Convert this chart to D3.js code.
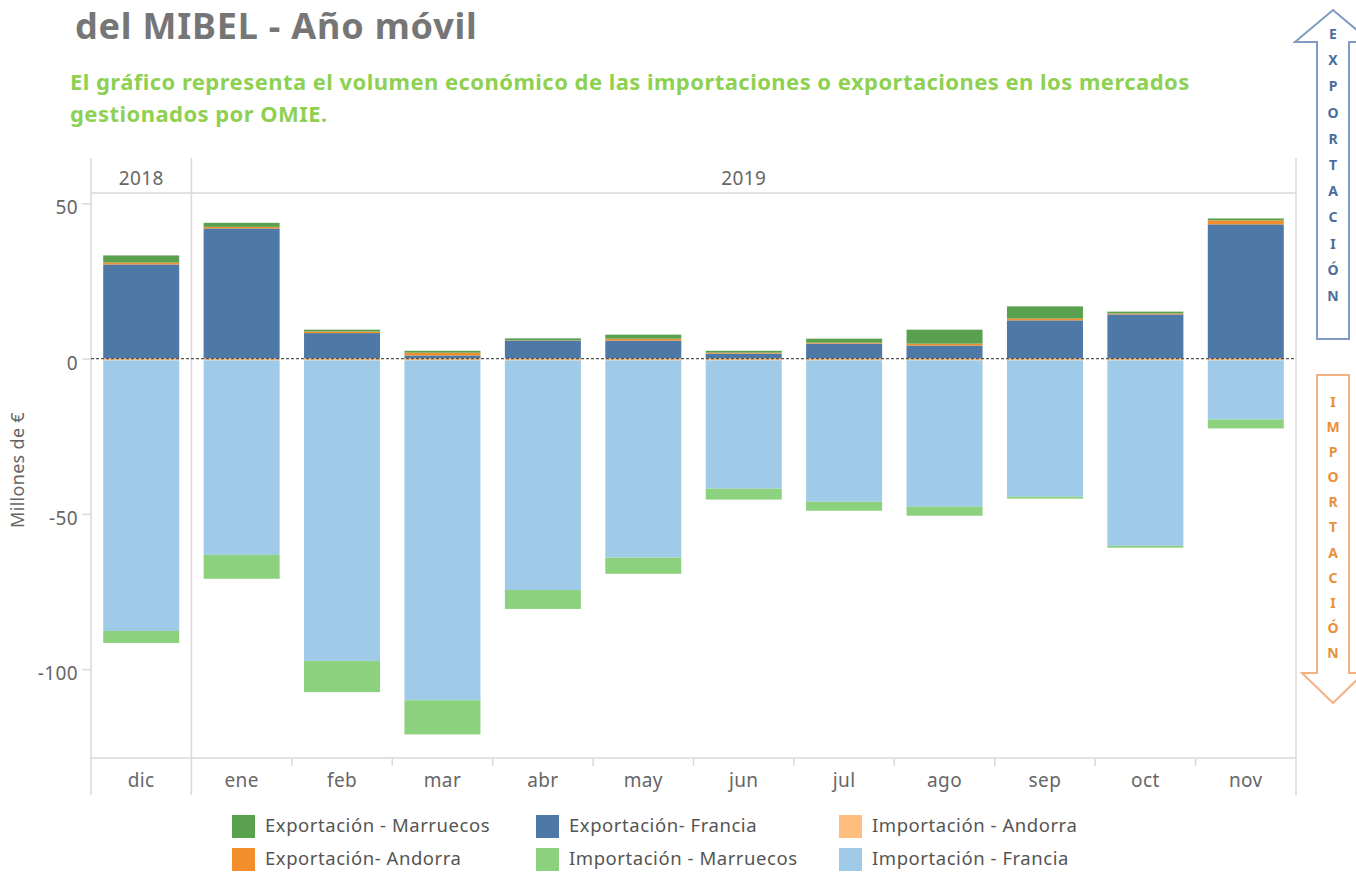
<!DOCTYPE html>
<html>
<head>
<meta charset="utf-8">
<script src="https://cdn.jsdelivr.net/npm/d3@7"></script>
<style>
  html, body { margin: 0; padding: 0; background: #fff; }
  svg { display: block; }
</style>
</head>
<body>
<svg id="chart" width="1356" height="872"></svg>
<script>
// Months of the rolling year (dic 2018 – nov 2019)
const months = ["dic", "ene", "feb", "mar", "abr", "may", "jun", "jul", "ago", "sep", "oct", "nov"];
const years = [{ label: "2018", from: 0, to: 1 }, { label: "2019", from: 1, to: 12 }];

// Millions of euros per month
const expFrancia   = [30.3, 41.9, 8.2, 1.0, 5.8, 5.8, 1.6, 4.8, 4.2, 12.3, 14.2, 43.2];
const expAndorra   = [0.6, 0.5, 0.5, 0.9, 0.1, 0.6, 0.3, 0.3, 0.6, 0.6, 0.3, 1.3];
const expMarruecos = [2.3, 1.3, 0.6, 0.6, 0.6, 1.3, 0.6, 1.3, 4.5, 3.9, 0.6, 0.6];
const impAndorra   = [0.6, 0.6, 0.6, 0.6, 0.6, 0.6, 0.6, 0.6, 0.6, 0.6, 0.6, 0.6];
const impFrancia   = [87.1, 62.6, 96.8, 109.4, 73.9, 63.5, 41.3, 45.5, 47.1, 43.9, 59.7, 19.0];
const impMarruecos = [3.9, 7.7, 10.0, 11.0, 6.1, 5.2, 3.5, 2.9, 2.9, 0.6, 0.6, 2.9];

const yTicks = [50, 0, -50, -100];

const series = [
  { key: "expFrancia",   name: "Exportación- Francia",     color: "#4e79a7", values: expFrancia,   sign: 1 },
  { key: "expAndorra",   name: "Exportación- Andorra",     color: "#f28e2b", values: expAndorra,   sign: 1 },
  { key: "expMarruecos", name: "Exportación - Marruecos",  color: "#59a14f", values: expMarruecos, sign: 1 },
  { key: "impAndorra",   name: "Importación - Andorra",    color: "#ffbe7d", values: impAndorra,   sign: -1 },
  { key: "impFrancia",   name: "Importación - Francia",    color: "#a0cbe8", values: impFrancia,   sign: -1 },
  { key: "impMarruecos", name: "Importación - Marruecos",  color: "#8cd17d", values: impMarruecos, sign: -1 }
];

// Legend layout order (column-wise, two rows)
const legendOrder = ["expMarruecos", "expAndorra", "expFrancia", "impMarruecos", "impAndorra", "impFrancia"];

const rows = months.map((m, i) => {
  const r = { month: m };
  series.forEach(s => { r[s.key] = s.sign * s.values[i]; });
  return r;
});

const svg = d3.select("#chart");
const FONT = "'Noto Sans', 'Open Sans', sans-serif";

const left = 91, right = 1296, headerTop = 158, plotTop = 193, plotBottom = 758, frameBottom = 795;

const x = d3.scaleBand().domain(months).range([left, right]).paddingInner(0.243).paddingOuter(0.1215);
const step = x.step();
const y = d3.scaleLinear().domain([-128.6, 53.3]).range([plotBottom, plotTop]);

const stacked = d3.stack()
  .keys(series.map(s => s.key))
  .offset(d3.stackOffsetDiverging)(rows);

// ---- Title block
svg.append("text")
  .attr("x", 75).attr("y", 39)
  .attr("font-family", FONT).attr("font-weight", 700).attr("font-size", 36)
  .attr("letter-spacing", 0.8)
  .attr("fill", "#767676")
  .text("del MIBEL - Año móvil");

const sub = svg.append("text")
  .attr("font-family", FONT).attr("font-weight", 700).attr("font-size", 22)
  .attr("letter-spacing", 0.45)
  .attr("fill", "#8ed152");
sub.append("tspan").attr("x", 70).attr("y", 90)
  .text("El gráfico representa el volumen económico de las importaciones o exportaciones en los mercados");
sub.append("tspan").attr("x", 70).attr("y", 122)
  .text("gestionados por OMIE.");

// ---- Frame / header
const frame = svg.append("g").attr("stroke", "#d9d9d9").attr("stroke-width", 1.5).attr("fill", "none");
frame.append("line").attr("x1", left).attr("x2", right).attr("y1", plotTop).attr("y2", plotTop);
frame.append("line").attr("x1", left).attr("x2", right).attr("y1", plotBottom).attr("y2", plotBottom);
[left, left + step, right].forEach(xx => {
  frame.append("line").attr("x1", xx).attr("x2", xx).attr("y1", headerTop).attr("y2", frameBottom);
});
// month separators on the axis
months.slice(2).forEach((m, i) => {
  const xx = left + step * (i + 2);
  frame.append("line").attr("x1", xx).attr("x2", xx).attr("y1", plotBottom).attr("y2", plotBottom + 8);
});

const LABEL = { "font-family": FONT, "font-size": 19, "letter-spacing": 0.4, fill: "#666" };
function styleLabel(sel) {
  Object.entries(LABEL).forEach(([k, v]) => sel.attr(k, v));
  return sel;
}

svg.selectAll(".year").data(years).join("text")
  .attr("x", d => left + step * (d.from + d.to) / 2)
  .attr("y", 178).attr("dy", "0.35em")
  .attr("text-anchor", "middle")
  .call(styleLabel)
  .text(d => d.label);

// ---- Y axis
const yAxis = svg.append("g").attr("transform", `translate(${left},0)`)
  .call(d3.axisLeft(y).tickValues(yTicks).tickSize(9).tickPadding(4)
    .tickFormat(d => String(d)));
yAxis.select(".domain").remove();
yAxis.selectAll(".tick line").attr("stroke", "#d9d9d9").attr("stroke-width", 1.5);
yAxis.selectAll(".tick text").call(styleLabel).attr("dy", "0.55em");

svg.append("text")
  .attr("transform", `translate(24,470) rotate(-90)`)
  .attr("text-anchor", "middle")
  .attr("font-family", FONT).attr("font-size", 18).attr("letter-spacing", 0.3).attr("fill", "#666")
  .text("Millones de €");

// ---- Month labels
svg.selectAll(".month").data(months).join("text")
  .attr("x", d => x(d) + x.bandwidth() / 2)
  .attr("y", 780).attr("dy", "0.35em")
  .attr("text-anchor", "middle")
  .call(styleLabel)
  .text(d => d);

// ---- Bars
const colorOf = Object.fromEntries(series.map(s => [s.key, s.color]));
svg.append("g").selectAll("g").data(stacked).join("g")
  .attr("fill", d => colorOf[d.key])
  .selectAll("rect").data(d => d).join("rect")
  .attr("x", d => x(d.data.month))
  .attr("width", x.bandwidth())
  .attr("y", d => y(Math.max(d[0], d[1])))
  .attr("height", d => Math.abs(y(d[0]) - y(d[1])));

// ---- Zero line
svg.append("line")
  .attr("x1", left).attr("x2", right).attr("y1", y(0)).attr("y2", y(0))
  .attr("stroke", "#555").attr("stroke-width", 1.2).attr("stroke-dasharray", "3,2");

// ---- Legend
const legend = svg.append("g");
const legCols = [232, 536, 839];
legendOrder.forEach((k, i) => {
  const s = series.find(d => d.key === k);
  const col = Math.floor(i / 2), row = i % 2;
  const g = legend.append("g").attr("transform", `translate(${legCols[col]},${815 + row * 33})`);
  g.append("rect").attr("width", 23).attr("height", 23).attr("fill", s.color);
  g.append("text").attr("x", 33).attr("y", 11).attr("dy", "0.35em")
    .call(styleLabel).attr("font-size", 18.5).attr("letter-spacing", 0.55).attr("fill", "#555")
    .text(s.name);
});

// ---- Direction arrows on the right
function arrow(cx, yTail, yHeadBase, yTip, halfShaft, halfHead, stroke, letters, letterColor, yFirst, gap) {
  const pts = [
    [cx - halfShaft, yTail], [cx + halfShaft, yTail],
    [cx + halfShaft, yHeadBase], [cx + halfHead, yHeadBase],
    [cx, yTip],
    [cx - halfHead, yHeadBase], [cx - halfShaft, yHeadBase]
  ];
  svg.append("path")
    .attr("d", d3.line()(pts) + "Z")
    .attr("fill", "#fff").attr("stroke", stroke).attr("stroke-width", 2);
  svg.append("g").selectAll("text").data(letters.split("")).join("text")
    .attr("x", cx).attr("y", (d, i) => yFirst + i * gap).attr("dy", "0.35em")
    .attr("text-anchor", "middle")
    .attr("font-family", FONT).attr("font-weight", 700).attr("font-size", 14)
    .attr("fill", letterColor)
    .text(d => d);
}
arrow(1333, 339, 42, 10, 16, 38, "#7f9bc2", "EXPORTACIÓN", "#4c6d9c", 34, 26.2);
arrow(1333, 375, 673, 703, 16, 31, "#f4b183", "IMPORTACIÓN", "#e8913a", 402, 25.1);
</script>
</body>
</html>
